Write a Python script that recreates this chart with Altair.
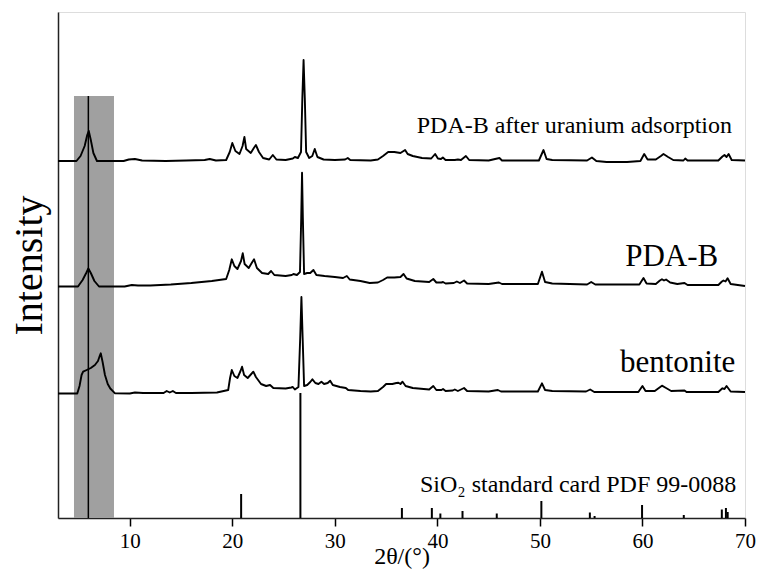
import altair as alt
import pandas as pd

FONT = "Liberation Serif, Times New Roman, serif"

# ---- curve data (2theta, intensity in arbitrary units) ----
U_x = [3.0, 4.8, 5.2, 5.6, 5.85, 6.0, 6.2, 6.45, 6.8, 9.4, 9.9, 10.5, 11.2, 13.5, 15.5, 17.3, 17.8, 18.4,
       19.4, 19.75, 20.0, 20.3, 20.7, 21.0, 21.18, 21.35, 21.8, 22.1, 22.3, 22.6, 23.0, 23.6, 23.95, 24.3,
       25.2, 25.9, 26.1, 26.4, 26.7, 26.83, 26.95, 27.07, 27.2, 27.5, 27.8, 28.04, 28.3, 28.9, 30.0, 31.0,
       31.26, 31.5, 33.5, 34.2, 34.7, 35.2, 35.8, 36.4, 36.85, 37.1, 37.6, 38.5, 39.4, 39.78, 40.05, 40.35,
       40.53, 40.8, 41.7, 42.0, 42.3, 42.78, 43.1, 45.0, 46.05, 46.3, 49.9, 50.35, 50.65, 51.2, 54.6, 55.07,
       55.5, 56.5, 58.5, 59.8, 60.17, 60.5, 61.3, 61.8, 62.05, 62.5, 63.0, 64.0, 64.17, 64.4, 67.4, 67.8,
       68.0, 68.2, 68.4, 68.7, 70.0]
U_y = [357, 357, 362, 372, 383, 387, 378, 365, 357, 357, 358.5, 359, 357.5, 357, 357.5, 358, 359, 357.5,
       358, 366, 375, 367, 364, 372, 381, 369, 365, 370, 373, 366, 360, 358.5, 363, 358.5,
       358, 359.5, 361, 360, 366, 420, 458, 420, 366, 360, 362, 369, 361, 358.5, 358, 358.5,
       360, 358, 357.5, 358.5, 362, 366, 366, 365, 368, 364, 362, 360, 359.5, 364, 359.5, 359,
       360.5, 358, 358, 358.5, 358, 362, 358, 357.5, 360, 357.5, 357.5, 368, 359, 358, 357.5, 360.5,
       357, 356, 356, 357, 364, 358.5, 358.5, 362, 364, 361, 358, 357.5, 359.5, 357.5, 357.5, 361.5,
       363, 361, 364, 358, 357.5]

P_x = [3.0, 4.95, 5.4, 5.75, 5.96, 6.2, 6.55, 7.0, 9.5, 10.2, 10.8, 12.0, 14.0, 16.0, 18.0, 19.4, 19.7,
       19.95, 20.2, 20.5, 20.85, 21.02, 21.2, 21.6, 21.95, 22.12, 22.4, 22.9, 23.5, 23.78, 24.1, 25.2,
       25.8, 25.96, 26.3, 26.6, 26.72, 26.8, 26.88, 27.0, 27.3, 27.6, 27.91, 28.2, 29.0, 30.0, 30.8,
       31.17, 31.45, 32.5, 33.4, 34.2, 34.7, 35.1, 35.8, 36.4, 36.7, 37.0, 37.8, 39.2, 39.6, 39.9, 40.4,
       40.55, 40.8, 41.6, 41.9, 42.2, 42.6, 42.9, 45.0, 46.0, 46.3, 49.8, 50.2, 50.5, 51.2, 54.6, 55.0,
       55.4, 59.7, 60.1, 60.4, 61.3, 61.7, 61.9, 62.1, 62.3, 62.7, 63.4, 64.1, 64.4, 67.4, 67.75, 67.9,
       68.1, 68.3, 68.6, 70.0]
P_y = [231.5, 231.5, 238, 245, 249.5, 245, 237, 231.5, 231.5, 233, 232.5, 232.5, 233.5, 235, 237, 239, 248,
       258.7, 252, 249, 257, 264.7, 254, 250, 256, 258.7, 250, 245, 244, 247, 243, 242,
       243, 244, 243, 246, 300, 345.3, 300, 244, 245, 245, 248, 243, 242, 241, 240,
       242, 238.5, 237, 235, 235.5, 238, 240.5, 240.5, 241, 244, 239.5, 237, 236, 239, 235.5, 235.5,
       236, 234.5, 235, 236.5, 235, 237.5, 234.5, 234, 235.5, 234, 234, 246.3, 236, 234.5, 233.5, 236,
       233.5, 233.5, 240, 234.5, 234, 237.5, 238.7, 237.5, 238.5, 235.5, 234, 235, 233, 233, 236.5, 237.5,
       236.5, 239.7, 234, 232]

B_x = [3.0, 4.88, 5.1, 5.3, 5.45, 5.8, 6.2, 6.6, 6.9, 7.1, 7.17, 7.35, 7.58, 7.85, 8.1, 8.56, 10.0, 10.5,
       11.3, 13.3, 13.6, 13.9, 14.2, 14.5, 16.0, 18.5, 19.6, 19.78, 19.95, 20.2, 20.5, 20.8, 20.95, 21.15,
       21.5, 21.85, 22.05, 22.3, 22.8, 23.3, 23.68, 24.0, 25.2, 25.75, 25.9, 26.1, 26.45, 26.62, 26.74,
       26.86, 27.0, 27.3, 27.6, 27.81, 28.1, 28.4, 28.69, 28.95, 29.3, 29.54, 29.8, 30.5, 31.07, 31.3,
       32.5, 33.5, 34.2, 34.7, 35.0, 35.6, 36.0, 36.2, 36.4, 36.6, 36.9, 37.6, 39.2, 39.6, 39.9, 40.4,
       40.55, 40.8, 41.5, 41.7, 42.0, 42.6, 42.9, 45.0, 45.9, 46.2, 49.8, 50.2, 50.5, 51.2, 54.5, 54.9,
       55.3, 59.6, 60.0, 60.3, 61.2, 61.6, 61.9, 62.3, 62.8, 64.1, 64.3, 67.4, 67.8, 68.0, 68.2, 68.6, 70.0]
B_y = [124.5, 124.5, 132, 143, 146.3, 148, 150, 153, 157, 163, 164.7, 156, 143, 134, 129.5, 124.7, 124.5, 125.5,
       125, 125, 127, 125.5, 127, 125, 125, 125.5, 128, 140, 148, 142, 140, 147, 151.3, 143,
       140, 144, 146.3, 141, 134, 132, 133, 130, 129.5, 130.5, 131, 128.5, 131, 180, 221,
       180, 132, 133, 136, 138.7, 135, 134, 136.3, 134, 135, 137.3, 133, 131, 130, 128,
       127, 126.5, 127, 131, 134, 134, 135, 135.3, 134, 136.3, 132, 130, 128.5, 132, 128, 128,
       129, 127, 127.5, 128.5, 127, 130, 127, 126.5, 128, 126.5, 126.5, 134.7, 128, 127, 126.5, 128.5,
       126, 126, 132, 127, 127, 130, 132.3, 130, 127, 127.5, 126, 126, 129.7, 129, 132, 126.5, 126]

# ---- SiO2 standard card sticks ----
stick_pos = [20.86, 26.64, 36.54, 39.46, 40.29, 42.45, 45.79, 50.14, 54.87, 55.33, 59.96, 64.03, 67.74, 68.14, 68.31]
stick_h = [24, 125, 10, 10, 4.5, 7, 4.5, 17, 5.5, 2, 13, 3, 8.5, 10, 6]

# ---- highlighted region and marker line ----
band_lo, band_hi, band_top = 4.56, 8.46, 422
marker_pos = 5.96

# ---- labels ----
small_labels = ["PDA-B after uranium adsorption", "SiO\u2082 standard card PDF 99-0088"]
small_x = [68.73, 69.15]
small_y = [385, 26]
big_labels = ["PDA-B", "bentonite"]
big_x = [67.39, 69.05]
big_y = [252.3, 146.3]

rows = []
for name, xs_, ys_ in [("U", U_x, U_y), ("P", P_x, P_y), ("B", B_x, B_y)]:
    for i, (a, b) in enumerate(zip(xs_, ys_)):
        rows.append({"x": a, "y": b, "s": name, "o": i})
curve_df = pd.DataFrame(rows)
stick_df = pd.DataFrame({"x": stick_pos, "y": [0] * len(stick_pos), "y2": stick_h})
band_df = pd.DataFrame({"x": [band_lo], "x2": [band_hi], "y": [0], "y2": [band_top]})
marker_df = pd.DataFrame({"x": [marker_pos], "y": [0], "y2": [band_top]})
small_df = pd.DataFrame({"x": small_x, "y": small_y, "label": small_labels})
big_df = pd.DataFrame({"x": big_x, "y": big_y, "label": big_labels})

xs = alt.Scale(domain=[3, 70], nice=False, zero=False)
ys = alt.Scale(domain=[0, 506], nice=False, zero=False)

xaxis = alt.Axis(values=[10, 20, 30, 40, 50, 60, 70], tickSize=8, tickWidth=1.5, tickColor="black",
                 domainColor="#222", domainWidth=1.5, labelFont=FONT, labelFontSize=21,
                 labelColor="black", labelPadding=4, grid=False, labelFlush=False, labelOverlap=False,
                 titleFont=FONT, titleFontSize=24, titleFontWeight="normal", titleColor="black",
                 titleY=45, titleBaseline="alphabetic")
yaxis = alt.Axis(labels=False, ticks=False, grid=False, domainColor="#222", domainWidth=1.5,
                 titleFont=FONT, titleFontSize=40, titleFontWeight="normal", titleColor="black",
                 titleX=-17, titleBaseline="alphabetic", titleAngle=270)

X = alt.X("x:Q", scale=xs, axis=xaxis, title="2θ/(°)")
Y = alt.Y("y:Q", scale=ys, axis=yaxis, title="Intensity")

band = alt.Chart(band_df).mark_rect(color="#a0a0a0").encode(x=X, x2="x2:Q", y=Y, y2="y2:Q")
curves = alt.Chart(curve_df).mark_line(color="black", strokeWidth=1.9, strokeJoin="round").encode(
    x=X, y=Y, detail="s:N", order="o:Q")
sticks = alt.Chart(stick_df).mark_rule(color="black", strokeWidth=2).encode(x=X, y=Y, y2="y2:Q")
marker = alt.Chart(marker_df).mark_rule(color="black", strokeWidth=1.5).encode(x=X, y=Y, y2="y2:Q")
small_txt = alt.Chart(small_df).mark_text(font=FONT, fontSize=24, align="right", baseline="alphabetic",
                                          color="black").encode(x=X, y=Y, text="label:N")
big_txt = alt.Chart(big_df).mark_text(font=FONT, fontSize=31, align="right", baseline="alphabetic",
                                      color="black").encode(x=X, y=Y, text="label:N")

chart = alt.layer(band, curves, sticks, marker, small_txt, big_txt).properties(
    width=687, height=506,
    padding={"left": 58, "top": 12, "right": 21, "bottom": 51},
    autosize="none",
).configure_view(stroke="#222", strokeWidth=1.5).configure(background="white")

chart.save("out.html", embed_options={"renderer": "svg", "actions": False})
